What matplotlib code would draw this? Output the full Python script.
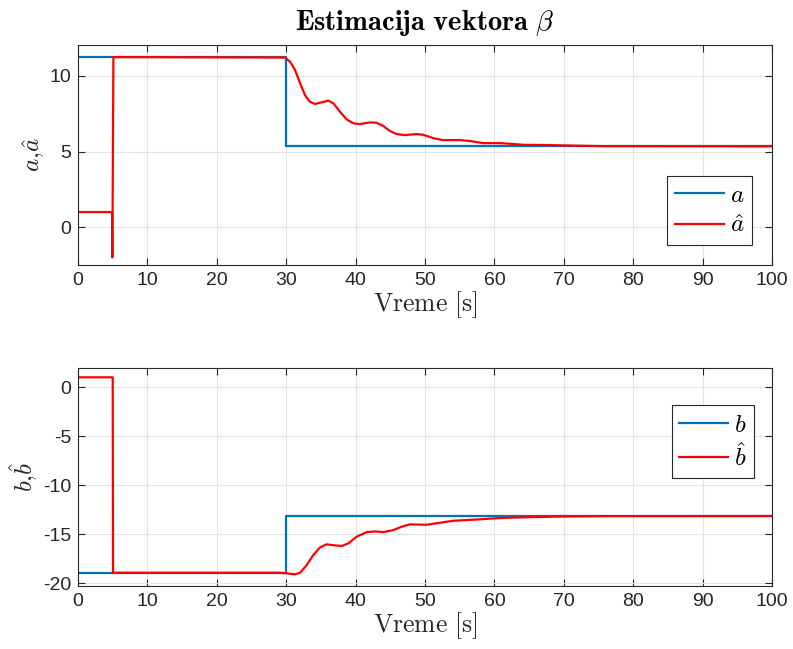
import matplotlib
matplotlib.use("Agg")
import matplotlib.pyplot as plt

plt.rcParams['mathtext.fontset'] = 'cm'
plt.rcParams['axes.unicode_minus'] = False
plt.rcParams['font.family'] = ['Liberation Sans', 'DejaVu Sans']

# ---- data ----
t_a = [0, 30, 30, 100]
a_true = [11.25, 11.25, 5.34, 5.34]

t_ahat = [0, 4.9, 4.95, 5.1, 29.8, 30.55, 31.27, 32.0, 32.7, 33.4, 34.15, 35.1, 36.07,
          36.8, 37.75, 38.7, 39.7, 40.6, 42.1, 43.0, 44.0, 44.95, 45.9, 47.1, 48.8,
          49.75, 51.2, 52.6, 55.0, 56.5, 58.4, 60.8, 62.2, 64.2, 68.0, 72.0, 76.0, 100]
ahat = [1.0, 1.0, -2.0, 11.25, 11.22, 10.95, 10.4, 9.52, 8.74, 8.3, 8.15, 8.26, 8.37,
        8.19, 7.64, 7.13, 6.87, 6.82, 6.93, 6.91, 6.69, 6.36, 6.16, 6.09, 6.16,
        6.11, 5.89, 5.76, 5.76, 5.7, 5.56, 5.56, 5.52, 5.45, 5.43, 5.39, 5.36, 5.35]

t_b = [0, 30, 30, 100]
b_true = [-18.95, -18.95, -13.16, -13.16]

t_bhat = [0, 5.0, 5.05, 29.1, 30.07, 31.27, 32.0, 32.95, 33.9, 34.87, 35.8, 37.0, 38.0,
          38.95, 40.15, 41.6, 42.8, 44.0, 45.4, 46.6, 47.8, 50.2, 52.2, 54.1, 56.0,
          57.9, 59.8, 62.2, 65.6, 68.0, 72.0, 76.0, 100]
bhat = [1.0, 1.0, -18.95, -18.95, -19.01, -19.11, -18.95, -18.16, -17.14, -16.36, -16.05,
        -16.15, -16.22, -15.95, -15.27, -14.8, -14.73, -14.8, -14.6, -14.26, -14.01,
        -14.05, -13.84, -13.64, -13.57, -13.5, -13.4, -13.33, -13.27, -13.23, -13.19,
        -13.17, -13.16]

xticks = list(range(0, 101, 10))
yticks_top = [0, 5, 10]
yticks_bot = [-20, -15, -10, -5, 0]

BLUE = '#0072BD'
RED = '#FF0000'
DARK = '#262626'

fig = plt.figure(figsize=(7.93, 6.49), dpi=100)
ax1 = fig.add_axes([78/793, 1-265/649, 694/793, 220/649])
ax2 = fig.add_axes([78/793, 1-586/649, 694/793, 218/649])


def style(ax):
    ax.grid(True, color='#e3e3e3', linewidth=0.8)
    ax.set_axisbelow(True)
    ax.tick_params(direction='in', length=5, width=0.8, top=True, right=True,
                   labelsize=14, colors=DARK, pad=5)
    for s in ax.spines.values():
        s.set_color(DARK)
        s.set_linewidth(0.8)
    ax.set_xlim(0, 100)
    ax.set_xticks(xticks)
    ax.set_xlabel(r'$\mathrm{Vreme\ [s]}$', fontsize=18.5, color=DARK, labelpad=0)


def legend(ax, loc, anchor):
    lg = ax.legend(loc=loc, bbox_to_anchor=anchor, fontsize=18,
                   handlelength=1.95, fancybox=False, framealpha=1, edgecolor=DARK,
                   borderaxespad=0, labelspacing=0.25, handletextpad=0.25,
                   borderpad=0.3)
    lg.get_frame().set_linewidth(0.8)
    return lg


ax1.plot(t_a, a_true, color=BLUE, lw=1.6, label=r'$a$')
ax1.plot(t_ahat, ahat, color=RED, lw=1.6, label=r'$\hat{a}$')
style(ax1)
ax1.set_ylim(-2.5, 12.05)
ax1.set_yticks(yticks_top)
ax1.set_ylabel(r'$a{,}\hat{a}$', fontsize=18, color=DARK, labelpad=2)
ax1.set_title(r'$\mathbf{Estimacija\ vektora}\ \beta$', fontsize=20.5, color='black', pad=11)
legend(ax1, 'lower right', (0.971, 0.091))

ax2.plot(t_b, b_true, color=BLUE, lw=1.6, label=r'$b$')
ax2.plot(t_bhat, bhat, color=RED, lw=1.6, label=r'$\hat{b}$')
style(ax2)
ax2.set_ylim(-20.3, 1.95)
ax2.set_yticks(yticks_bot)
ax2.set_ylabel(r'$b{,}\hat{b}$', fontsize=18, color=DARK, labelpad=2)
legend(ax2, 'upper right', (0.974, 0.830))

fig.savefig('out.png', dpi=100)
